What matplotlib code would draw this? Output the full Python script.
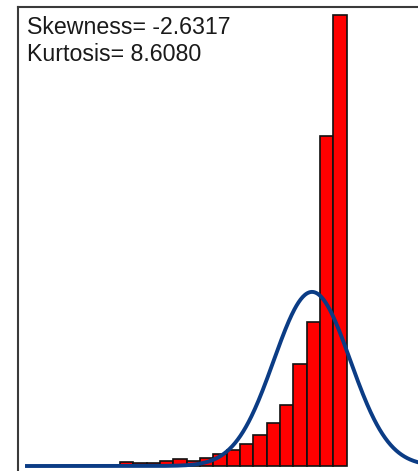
"""
Histogram of observations with a fitted normal curve and moment statistics.

Writes: out.png
"""

import numpy as np
import matplotlib
matplotlib.use("Agg")
import matplotlib.pyplot as plt

# histogram: equal-width bins, counts per bin
bin_start = 0.0
bin_width = 1.0
counts = [3, 9, 7, 7, 10, 15, 10, 17, 25, 32, 44, 62, 86, 123, 204, 288, 661, 902]

# normal fit parameters (same units as the bins)
fit_mean = 15.41
fit_sd = 2.87

skewness = -2.6317
kurtosis = 8.6080


def main():
    plt.rcParams["font.family"] = ["Liberation Sans", "DejaVu Sans"]

    fig = plt.figure(figsize=(4.18, 4.71), dpi=100)
    # plot frame runs past the right and bottom edge of the image
    ax = fig.add_axes([18 / 418, (471 - 485) / 471, (430 - 18) / 418, (485 - 7) / 471])

    n_bins = len(counts)
    edges = bin_start + bin_width * np.arange(n_bins + 1)
    ax.bar(edges[:-1], counts, width=bin_width, align="edge",
           color="#ff0000", edgecolor="#111111", linewidth=1.2, zorder=2)

    total = sum(counts)
    xs = np.linspace(-6.12, 25, 600)
    pdf = np.exp(-0.5 * ((xs - fit_mean) / fit_sd) ** 2) / (fit_sd * np.sqrt(2 * np.pi))
    ax.plot(xs, total * bin_width * pdf, color="#0b3c85", linewidth=2.8,
            solid_capstyle="butt", zorder=3)

    ax.set_xlim(-6.647, 24.26)
    ax.set_ylim(-38, 918)
    ax.set_xticks([])
    ax.set_yticks([])
    for side in ("left", "top", "right", "bottom"):
        ax.spines[side].set_color("#3a3a3a")
        ax.spines[side].set_linewidth(1.5)

    fig.text(27 / 418, 1 - 34 / 471, f"Skewness= {skewness:.4f}",
             fontsize=16.7, va="baseline", ha="left", color="#1a1a1a")
    fig.text(27 / 418, 1 - 61 / 471, f"Kurtosis= {kurtosis:.4f}",
             fontsize=16.7, va="baseline", ha="left", color="#1a1a1a")

    fig.savefig("out.png", dpi=100)
    plt.close(fig)


if __name__ == "__main__":
    main()
